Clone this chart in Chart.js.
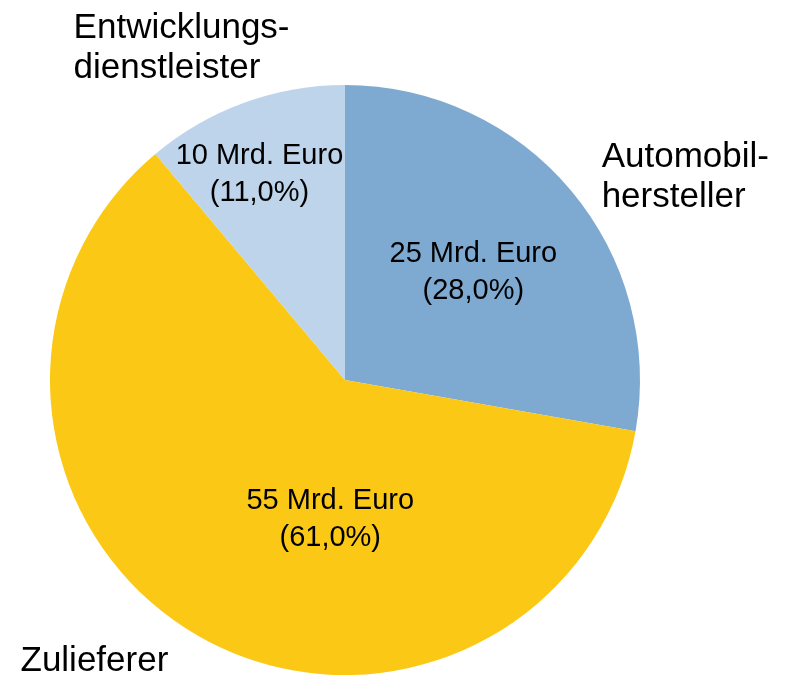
<!DOCTYPE html>
<html>
<head>
<meta charset="utf-8">
<script src="https://cdn.jsdelivr.net/npm/chart.js@4"></script>
<style>
  html, body { margin: 0; padding: 0; background: #ffffff; }
  #wrap { width: 785px; height: 678px; }
</style>
</head>
<body>
<div id="wrap"><canvas id="pieChart"></canvas></div>
<script>
// Daten: Umsatzanteile (Mrd. Euro)
const categories = ['Automobilhersteller', 'Zulieferer', 'Entwicklungsdienstleister'];
const outerLabels = [['Automobil-', 'hersteller'], ['Zulieferer'], ['Entwicklungs-', 'dienstleister']];
const values = [25, 55, 10];
const percents = ['28,0%', '61,0%', '11,0%'];
const colors = ['#7eaad2', '#fbc815', '#bed4ea'];

// Textpositionen relativ zum Mittelpunkt (in Radius-Einheiten)
const innerPos = [[0.435, -0.367], [-0.05, 0.47], [-0.29, -0.70]];
const outerPos = [[0.87, -0.755, 'left'], [-1.10, 0.955, 'left'], [-0.92, -1.193, 'left']];

const labelPlugin = {
    id: 'labelPlugin',
    afterDatasetsDraw(chart) {
        const ctx = chart.ctx;
        const arc = chart.getDatasetMeta(0).data[0];
        const cx = arc.x, cy = arc.y, r = arc.outerRadius;
        ctx.save();
        ctx.fillStyle = '#000000';
        ctx.textBaseline = 'middle';

        // Werte im Kreis
        ctx.font = '29px "Liberation Sans", Arial, sans-serif';
        ctx.textAlign = 'center';
        values.forEach((v, i) => {
            const x = cx + innerPos[i][0] * r;
            const y = cy + innerPos[i][1] * r;
            ctx.fillText(v + ' Mrd. Euro', x, y - 18);
            ctx.fillText('(' + percents[i] + ')', x, y + 19);
        });

        // Kategorien außen
        ctx.font = '35px "Liberation Sans", Arial, sans-serif';
        outerLabels.forEach((lines, i) => {
            const x = cx + outerPos[i][0] * r;
            const y = cy + outerPos[i][1] * r;
            ctx.textAlign = outerPos[i][2];
            lines.forEach((line, k) => {
                ctx.fillText(line, x, y + k * 40);
            });
        });
        ctx.restore();
    }
};

new Chart(document.getElementById('pieChart').getContext('2d'), {
    type: 'pie',
    data: {
        labels: categories,
        datasets: [{
            data: values,
            backgroundColor: colors,
            borderWidth: 0,
            hoverOffset: 0
        }]
    },
    options: {
        responsive: true,
        maintainAspectRatio: false,
        animation: false,
        layout: { padding: { top: 85, bottom: 3, left: 50, right: 145 } },
        plugins: {
            legend: { display: false },
            tooltip: { enabled: false }
        }
    },
    plugins: [labelPlugin]
});
</script>
</body>
</html>
